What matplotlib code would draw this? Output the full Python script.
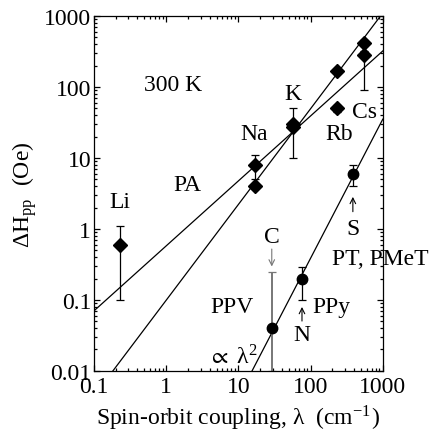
import numpy as np
import matplotlib.pyplot as plt
from matplotlib.ticker import LogLocator, NullFormatter, FixedLocator, FixedFormatter

plt.rcParams['font.family'] = ['Liberation Serif', 'DejaVu Serif']
plt.rcParams['mathtext.fontset'] = 'stix'

# alkali-doped polyacetylene (PA)
alk_x = [0.23, 17, 17, 57, 57, 230, 230, 550, 550]
alk_y = [0.6, 8, 4, 30, 27, 170, 50, 420, 280]
alk_lo = [0.1, 5, 4, 10, 27, 170, 45, 380, 90]
alk_hi = [1.1, 11, 4, 50, 27, 170, 55, 460, 320]

# polymers: PPV (C), PPy (N), PT/PMeT (S)
pol_x = [29, 76, 385]
pol_y = [0.04, 0.2, 6]
pol_lo = [0.01, 0.1, 4]
pol_hi = [0.245, 0.29, 8]

# fitted lines: (log10 y at lambda=0.1, slope)
pa_fit = (-1.155, 0.916)
alk_fit = (-2.0 - 1.35 * (-0.737 + 1), 1.35)
pol_fit = (-2.0 - 1.96 * (1.19 + 1), 1.96)

fig = plt.figure(figsize=(4.35, 4.39), dpi=100)
ax = fig.add_axes([0.216, 0.153, 0.664, 0.808])

xx = np.logspace(-1, 3, 50)
for b, m in (pa_fit, alk_fit, pol_fit):
    ax.plot(xx, 10 ** (b + m * (np.log10(xx) + 1)), color='black', lw=0.9)

ya = np.array(alk_y)
ax.errorbar(alk_x, alk_y, yerr=[ya - np.array(alk_lo), np.array(alk_hi) - ya],
            fmt='D', color='black', ms=7, capsize=3, elinewidth=0.9, capthick=0.9)

yp = np.array(pol_y)
ax.errorbar(pol_x[:1], pol_y[:1], yerr=[yp[:1] - pol_lo[0], pol_hi[0] - yp[:1]],
            fmt='none', ecolor='#777777', capsize=3, elinewidth=1.4, capthick=0.9)
ax.errorbar(pol_x[1:], pol_y[1:], yerr=[yp[1:] - np.array(pol_lo[1:]), np.array(pol_hi[1:]) - yp[1:]],
            fmt='none', ecolor='black', capsize=3, elinewidth=0.9, capthick=0.9)
ax.plot(pol_x, pol_y, 'o', color='black', ms=7.5)

ax.set_xscale('log')
ax.set_yscale('log')
ax.set_xlim(0.1, 1000)
ax.set_ylim(0.01, 1000)

ax.xaxis.set_major_locator(FixedLocator([0.1, 1, 10, 100, 1000]))
ax.xaxis.set_major_formatter(FixedFormatter(['0.1', '1', '10', '100', '1000']))
ax.yaxis.set_major_locator(FixedLocator([0.01, 0.1, 1, 10, 100, 1000]))
ax.yaxis.set_major_formatter(FixedFormatter(['0.01', '0.1', '1', '10', '100', '1000']))
for a in (ax.xaxis, ax.yaxis):
    a.set_minor_locator(LogLocator(base=10, subs=np.arange(2, 10), numticks=20))
    a.set_minor_formatter(NullFormatter())
ax.tick_params(which='both', direction='in', top=True, right=True, labelsize=17, width=0.9)
ax.tick_params(which='major', length=4.5, pad=2)
ax.tick_params(which='minor', length=2.5)
ax.tick_params(axis='x', which='major', pad=4)
for s in ax.spines.values():
    s.set_linewidth(0.9)

fs = 17
ax.text(1.24, 107, '300 K', fontsize=fs, ha='center', va='center')
ax.text(1.94, 4.2, 'PA', fontsize=fs, ha='center', va='center')
ax.text(0.23, 2.4, 'Li', fontsize=fs, ha='center', va='center')
ax.text(16.4, 22, 'Na', fontsize=fs, ha='center', va='center')
ax.text(57, 82, 'K', fontsize=fs, ha='center', va='center')
ax.text(245, 22.5, 'Rb', fontsize=fs, ha='center', va='center')
ax.text(560, 45, 'Cs', fontsize=fs, ha='center', va='center')
ax.text(385, 1.0, 'S', fontsize=fs, ha='center', va='center')
ax.text(930, 0.38, 'PT, PMeT', fontsize=fs, ha='center', va='center')
ax.text(29, 0.78, 'C', fontsize=fs, ha='center', va='center')
ax.text(8.1, 0.082, 'PPV', fontsize=fs, ha='center', va='center')
ax.text(195, 0.082, 'PPy', fontsize=fs, ha='center', va='center')
ax.text(76, 0.033, 'N', fontsize=fs, ha='center', va='center')
ax.text(8.4, 0.016, r'$\propto$ λ$^{\mathregular{2}}$', fontsize=fs, ha='center', va='center')

arw = dict(arrowstyle='->', color='black', lw=0.8)
ax.annotate('', xy=(385, 3.1), xytext=(385, 1.6), arrowprops=arw)
ax.annotate('', xy=(29, 0.27), xytext=(29, 0.57), arrowprops=dict(arw, color='#777777'))
ax.annotate('', xy=(76, 0.087), xytext=(76, 0.046), arrowprops=arw)

ax.set_xlabel('Spin-orbit coupling, λ  (cm$^{\\mathregular{-1}}$)', fontsize=17, labelpad=4)
ax.set_ylabel('ΔH$_{\\mathregular{pp}}$  (Oe)', fontsize=17, labelpad=4)

fig.savefig('out.png', dpi=100)
